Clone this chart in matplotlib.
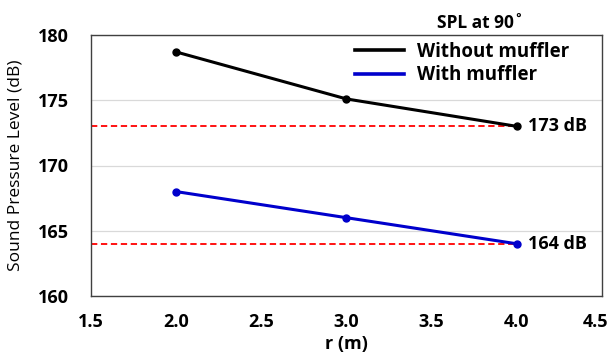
import matplotlib
matplotlib.use('Agg')
import matplotlib.pyplot as plt
import matplotlib.transforms as mtransforms
from matplotlib.lines import Line2D

plt.rcParams['font.family'] = ['Open Sans', 'DejaVu Sans']

# data
r = [2.0, 3.0, 4.0]
spl_without = [178.7, 175.1, 173.0]
spl_with = [168.0, 166.0, 164.0]
ref_levels = [173, 164]
ref_labels = ['173 dB', '164 dB']
series_names = ['Without muffler', 'With muffler']
xticks = [1.5, 2.0, 2.5, 3.0, 3.5, 4.0, 4.5]
yticks = [160, 165, 170, 175, 180]

fig = plt.figure(figsize=(6.1, 3.57), dpi=100)
# axes box: x 91..602 px, y 35..296 px
ax = fig.add_axes([91 / 610, 1 - 296 / 357, 511 / 610, 261 / 357])

ax.grid(axis='y', color='#d9d9d9', linewidth=0.9)
ax.set_axisbelow(True)

for lvl in ref_levels:
    ax.plot([1.5, 4.0], [lvl, lvl], color='red', linestyle='--', linewidth=1.3,
            dashes=(3.5, 2), zorder=2)

ax.plot(r, spl_without, color='black', linewidth=2.2, marker='o', markersize=5, zorder=3)
ax.plot(r, spl_with, color='#0000cc', linewidth=2.2, marker='o', markersize=5, zorder=3)

for lvl, txt in zip(ref_levels, ref_labels):
    ax.text(4.065, lvl, txt, fontsize=13, fontweight='bold', va='center', ha='left')

ax.set_xlim(1.5, 4.5)
ax.set_ylim(160, 180)
ax.set_xticks(xticks)
ax.set_xticklabels(['%.1f' % x for x in xticks], fontsize=13, fontweight='bold')
ax.set_yticks(yticks)
ax.set_yticklabels([str(y) for y in yticks], fontsize=13, fontweight='bold')
ax.tick_params(axis='x', length=0, pad=12)
ax.tick_params(axis='y', length=0, pad=16)

# last x label sits at the figure edge, nudge it in a little
last = ax.get_xticklabels()[-1]
last.set_transform(last.get_transform() +
                   mtransforms.ScaledTranslation(-6 / 100, 0, fig.dpi_scale_trans))

for s in ax.spines.values():
    s.set_color('#404040')
    s.set_linewidth(1.0)

ax.set_xlabel('r (m)', fontsize=13, fontweight='bold', labelpad=3)
ax.set_ylabel('Sound Pressure Level (dB)', fontsize=12.5, labelpad=10)

handles = [Line2D([], [], color='black', linewidth=2.6),
           Line2D([], [], color='#0000cc', linewidth=2.6)]
leg = ax.legend(handles, series_names, loc='upper left', frameon=False, fontsize=13.5,
                handlelength=2.6, handletextpad=0.7, borderpad=0, borderaxespad=0,
                labelspacing=0.2, bbox_to_anchor=(0.517, 0.975))
for t in leg.get_texts():
    t.set_fontweight('bold')

fig.text(480 / 610, 1 - 23 / 357, 'SPL at 90˚', fontsize=12.5, fontweight='bold',
         ha='center', va='center')

fig.savefig('out.png', dpi=100)
